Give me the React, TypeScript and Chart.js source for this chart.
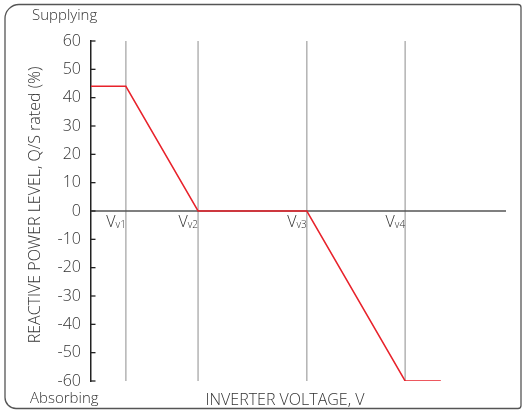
import React, { useEffect, useRef } from "react";
import { Chart, registerables } from "chart.js";

Chart.register(...registerables);

// Voltage breakpoints (arbitrary voltage units on a 0..100 axis)
const breakpointX = [8.4, 25.8, 52, 75.7];
const breakpointLabels = ["v1", "v2", "v3", "v4"];
// Reactive power curve
const curveX = [0, 8.4, 25.8, 52, 75.7, 84.3];
const curveY = [44, 44, 0, 0, -60, -60];
// Y ticks
const yTicks = [60, 50, 40, 30, 20, 10, 0, -10, -20, -30, -40, -50, -60];

const FONT = "'Open Sans', 'DejaVu Sans', sans-serif";

const decorPlugin = {
  id: "decor",
  beforeDraw(chart: any) {
    const ctx = chart.ctx;
    ctx.save();
    ctx.strokeStyle = "#555";
    ctx.lineWidth = 1.3;
    ctx.beginPath();
    (ctx as any).roundRect(5, 4.5, 516, 404, [14, 3, 3, 11]);
    ctx.stroke();
    ctx.restore();
  },
  afterDraw(chart: any) {
    const ctx = chart.ctx;
    const xs = chart.scales.x;
    const ys = chart.scales.y;
    const left = chart.chartArea.left;
    ctx.save();
    // inside tick marks
    ctx.strokeStyle = "#222";
    ctx.lineWidth = 1.3;
    yTicks.forEach((t) => {
      const py = ys.getPixelForValue(t);
      ctx.beginPath();
      ctx.moveTo(left, py);
      ctx.lineTo(left + 4.5, py);
      ctx.stroke();
    });
    // breakpoint labels
    const y0 = ys.getPixelForValue(0);
    breakpointX.forEach((v, i) => {
      const px = xs.getPixelForValue(v);
      ctx.font = `300 10px ${FONT}`;
      const subW = ctx.measureText(breakpointLabels[i]).width;
      ctx.font = `300 16px ${FONT}`;
      const vW = ctx.measureText("V").width;
      ctx.fillStyle = "#333";
      ctx.textBaseline = "alphabetic";
      ctx.textAlign = "left";
      ctx.fillText("V", px - subW - vW, y0 + 16);
      ctx.font = `300 10px ${FONT}`;
      ctx.fillText(breakpointLabels[i], px - subW, y0 + 17);
    });
    // texts
    ctx.fillStyle = "#333";
    ctx.font = `300 15px ${FONT}`;
    ctx.textAlign = "left";
    ctx.fillText("Supplying", 32, 20);
    ctx.fillText("Absorbing", 30, 403);
    ctx.font = `300 16px ${FONT}`;
    ctx.textAlign = "center";
    ctx.fillText("INVERTER VOLTAGE, V", 285, 405);
    ctx.save();
    ctx.translate(40, 205);
    ctx.rotate(-Math.PI / 2);
    ctx.textAlign = "center";
    ctx.fillText("REACTIVE POWER LEVEL, Q/S rated (%)", 0, 0);
    ctx.restore();
    ctx.restore();
  },
};

export default function App() {
  const ref = useRef<HTMLCanvasElement>(null);
  useEffect(() => {
    if (!ref.current) return;
    const verticals = breakpointX.map((v) => ({
      data: [
        { x: v, y: -60 },
        { x: v, y: 60 },
      ],
      borderColor: "#b3b3b3",
      borderWidth: 1.5,
      pointRadius: 0,
      order: 3,
    }));
    const chart = new Chart(ref.current, {
      type: "line",
      data: {
        datasets: [
          {
            data: curveX.map((x, i) => ({ x, y: curveY[i] })),
            borderColor: "#e8222b",
            borderWidth: 1.5,
            pointRadius: 0,
            order: 1,
          },
          {
            data: [
              { x: 0, y: 0 },
              { x: 100, y: 0 },
            ],
            borderColor: "#555",
            borderWidth: 1.5,
            pointRadius: 0,
            order: 2,
          },
          ...verticals,
        ],
      },
      options: {
        responsive: false,
        animation: false,
        layout: { padding: { left: 0, top: 41, right: 20, bottom: 30 } },
        plugins: { legend: { display: false }, tooltip: { enabled: false } },
        scales: {
          x: { type: "linear", min: 0, max: 100, display: false },
          y: {
            type: "linear",
            min: -60,
            max: 60,
            afterFit: (s: any) => {
              s.width = 91;
            },
            ticks: {
              stepSize: 10,
              padding: 10,
              color: "#333",
              font: { family: FONT, size: 16, weight: "300" },
            },
            grid: { drawOnChartArea: false, drawTicks: false },
            border: { display: true, color: "#222", width: 1.5 },
          },
        },
      },
      plugins: [decorPlugin],
    } as any);
    return () => chart.destroy();
  }, []);
  return (
    <div style={{ position: "absolute", left: 0, top: 0, width: 526, height: 411 }}>
      <canvas ref={ref} width={526} height={411} />
    </div>
  );
}
